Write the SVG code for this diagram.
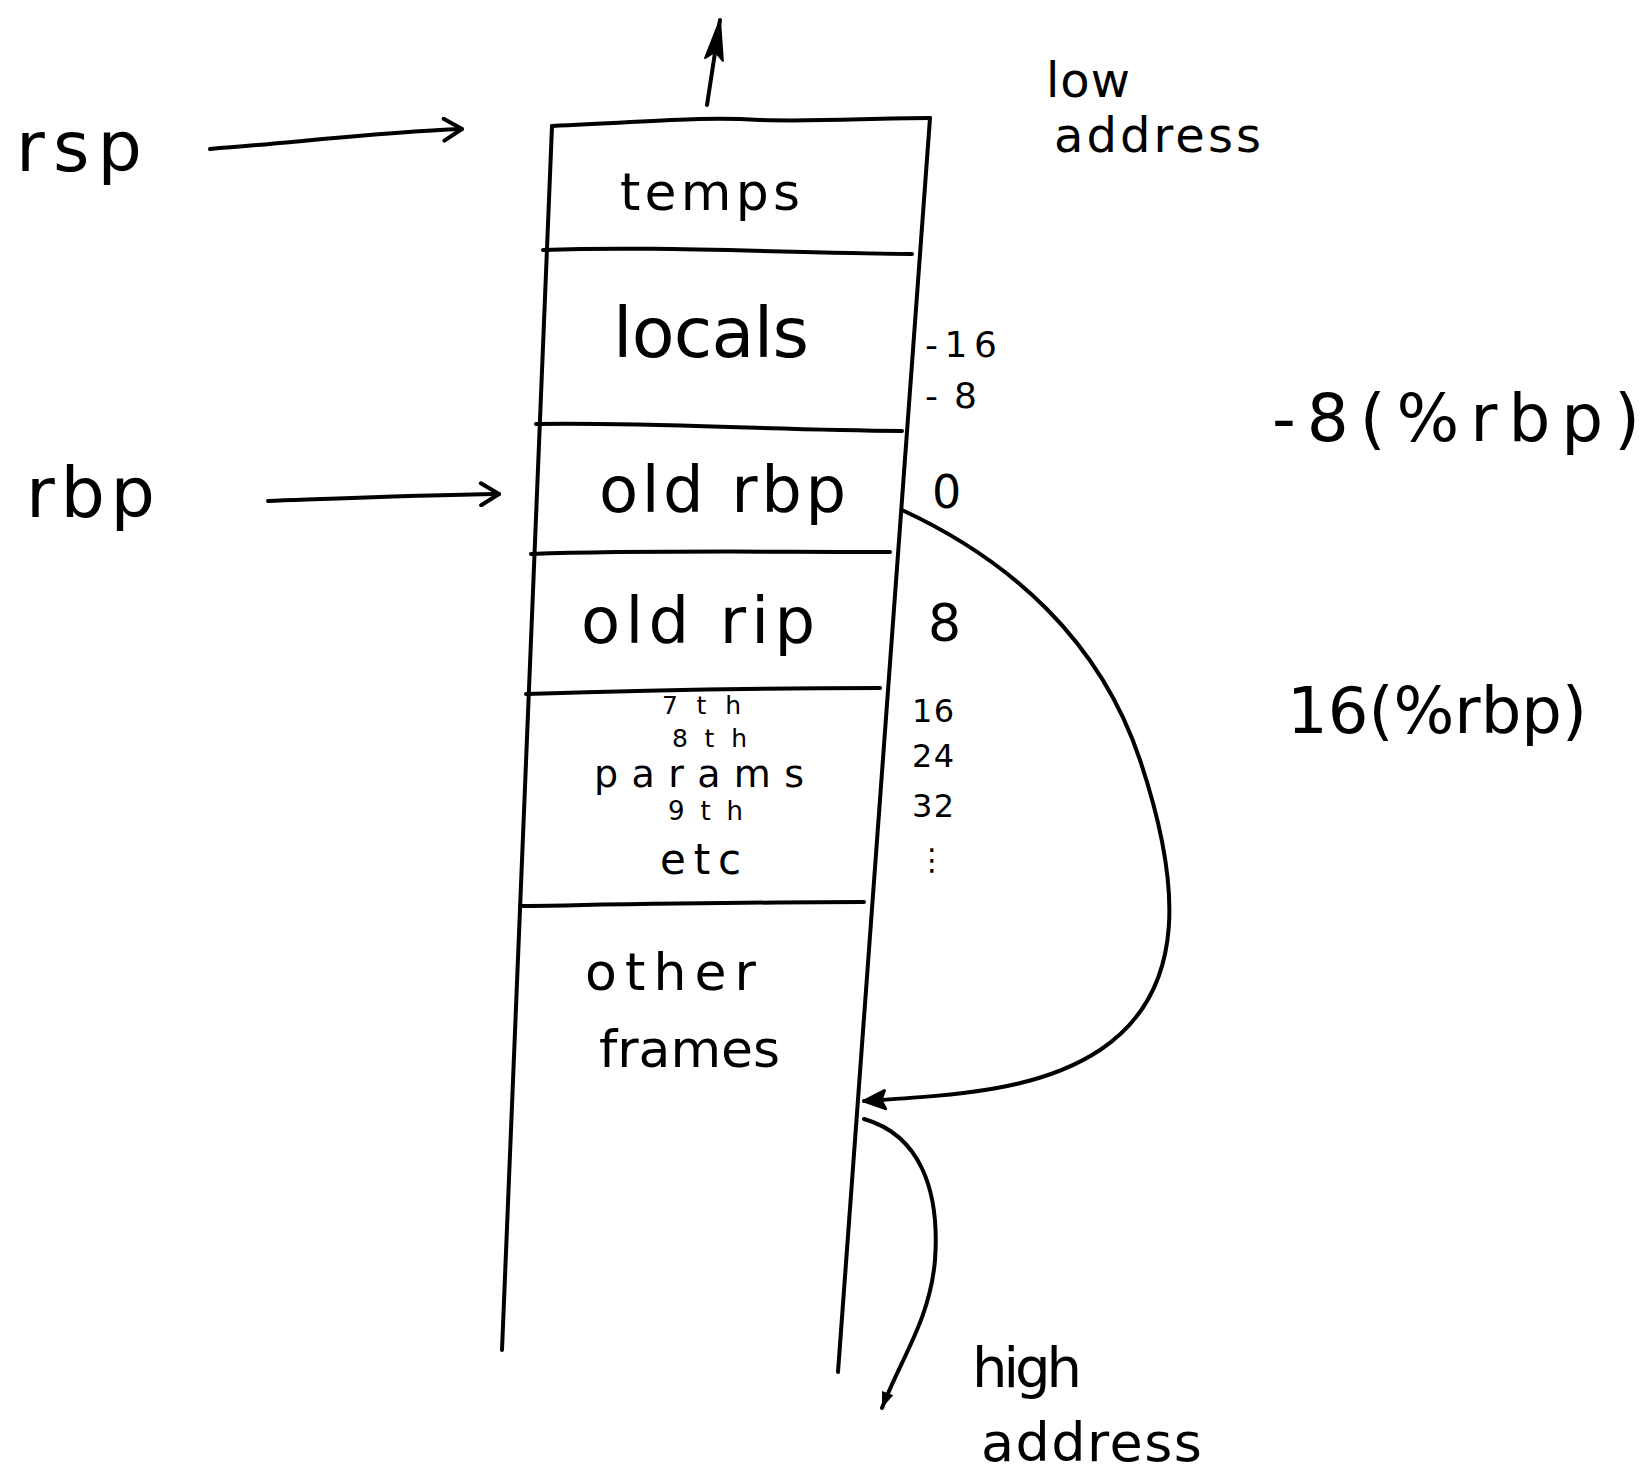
<svg xmlns="http://www.w3.org/2000/svg" width="1648" height="1474" viewBox="0 0 1648 1474">
<style>
.ln{fill:none;stroke:#000;stroke-width:4;stroke-linecap:round;stroke-linejoin:round}
.t{font-family:"DejaVu Sans","Liberation Sans",sans-serif;fill:#000;font-weight:normal}
</style>
<defs>
<marker id="open" viewBox="0 0 26 26" refX="23" refY="13" markerWidth="26" markerHeight="26" markerUnits="userSpaceOnUse" orient="auto">
<path d="M5 2 L23 13 L5 24" fill="none" stroke="#000" stroke-width="4" stroke-linecap="round" stroke-linejoin="round"/>
</marker>
<marker id="tri" viewBox="0 0 28 28" refX="26" refY="14" markerWidth="28" markerHeight="28" markerUnits="userSpaceOnUse" orient="auto">
<path d="M26 14 L5 5 L9 14 L5 23 Z" fill="#000" stroke="#000" stroke-width="3" stroke-linejoin="round"/>
</marker>
<marker id="spike" viewBox="0 0 44 26" refX="42" refY="13" markerWidth="44" markerHeight="26" markerUnits="userSpaceOnUse" orient="auto">
<path d="M42 13 L2 4 L10 13 L2 22 Z" fill="#000" stroke="#000" stroke-width="2" stroke-linejoin="round"/>
</marker>
<marker id="dot" viewBox="0 0 20 16" refX="18" refY="8" markerWidth="20" markerHeight="16" markerUnits="userSpaceOnUse" orient="auto">
<path d="M18 8 L2 2 L2 14 Z" fill="#000"/>
</marker>
</defs>
<rect width="1648" height="1474" fill="#fff"/>

<g id="stack">
<path class="ln" d="M552 126 C 650 122, 700 116, 760 120 C 820 122, 870 118, 930 118"/>
<path class="ln" d="M552 126 L 502 1350"/>
<path class="ln" d="M930 118 L 838 1372"/>
</g>

<g id="node-temps">
<text class="t" x="620" y="210" font-size="52" textLength="180" lengthAdjust="spacing">temps</text>
</g>
<g id="node-locals">
<path class="ln" d="M543 250 C 650 246, 760 252, 912 254"/>
<text class="t" x="613" y="357" font-size="70" textLength="196" lengthAdjust="spacing">locals</text>
</g>
<g id="node-oldrbp">
<path class="ln" d="M536 424 C 650 422, 760 430, 902 431"/>
<text class="t" x="599" y="512" font-size="64" textLength="247" lengthAdjust="spacing">old rbp</text>
</g>
<g id="node-oldrip">
<path class="ln" d="M531 554 C 650 550, 760 552, 890 552"/>
<text class="t" x="581" y="643" font-size="64" textLength="234" lengthAdjust="spacing">old rip</text>
</g>
<g id="node-params">
<path class="ln" d="M526 694 C 650 690, 760 688, 880 688"/>
<text class="t" x="662" y="714" font-size="25" textLength="79" lengthAdjust="spacing">7th</text>
<text class="t" x="672" y="747" font-size="25" textLength="75" lengthAdjust="spacing">8th</text>
<text class="t" x="594" y="787" font-size="38" textLength="210" lengthAdjust="spacing">params</text>
<text class="t" x="668" y="820" font-size="26" textLength="75" lengthAdjust="spacing">9th</text>
<text class="t" x="660" y="874" font-size="42" textLength="81" lengthAdjust="spacing">etc</text>
</g>
<g id="node-other">
<path class="ln" d="M520 906 C 650 904, 760 902, 864 902"/>
<text class="t" x="585" y="990" font-size="52" textLength="171" lengthAdjust="spacing">other</text>
<text class="t" x="599" y="1067" font-size="52" textLength="181" lengthAdjust="spacing">frames</text>
</g>

<g id="offsets">
<text class="t" x="925" y="357" font-size="36" textLength="72" lengthAdjust="spacing">-16</text>
<text class="t" x="925" y="408" font-size="36" textLength="52" lengthAdjust="spacing">-8</text>
<text class="t" x="932" y="508" font-size="46" textLength="40" lengthAdjust="spacing">0</text>
<text class="t" x="928" y="641" font-size="52" textLength="36" lengthAdjust="spacing">8</text>
<text class="t" x="912" y="722" font-size="32" textLength="42" lengthAdjust="spacing">16</text>
<text class="t" x="912" y="767" font-size="32" textLength="42" lengthAdjust="spacing">24</text>
<text class="t" x="912" y="817" font-size="32" textLength="42" lengthAdjust="spacing">32</text>
<text class="t" x="917" y="870" font-size="30">⋮</text>
</g>

<g id="node-rsp">
<text class="t" x="16" y="171" font-size="70" textLength="126" lengthAdjust="spacing">rsp</text>
</g>
<g id="node-rbp">
<text class="t" x="26" y="517" font-size="70" textLength="129" lengthAdjust="spacing">rbp</text>
</g>

<g id="labels">
<text class="t" x="1046" y="97" font-size="48" textLength="84" lengthAdjust="spacing">low</text>
<text class="t" x="1054" y="152" font-size="48" textLength="207" lengthAdjust="spacing">address</text>
<text class="t" x="1272" y="441" font-size="66" textLength="368" lengthAdjust="spacing">-8(%rbp)</text>
<text class="t" x="1287" y="733" font-size="64" textLength="300" lengthAdjust="spacing">16(%rbp)</text>
<text class="t" x="972" y="1387" font-size="56" textLength="110" lengthAdjust="spacing">high</text>
<text class="t" x="981" y="1461" font-size="54" textLength="221" lengthAdjust="spacing">address</text>
</g>

<g id="connectors">
<path class="ln" d="M707 105 L 720 20" marker-end="url(#spike)"/>
<path class="ln" d="M210 149 C 300 142, 380 132, 462 129" marker-end="url(#open)"/>
<path class="ln" d="M268 501 C 350 498, 420 495, 499 494" marker-end="url(#open)"/>
<path class="ln" d="M902 510 C 1010 560, 1100 640, 1140 760 C 1180 880, 1190 990, 1100 1050 C 1040 1090, 960 1095, 864 1101" marker-end="url(#tri)"/>
<path class="ln" d="M864 1119 C 920 1135, 940 1190, 935 1260 C 930 1320, 900 1360, 882 1408" marker-end="url(#dot)"/>
</g>
</svg>
